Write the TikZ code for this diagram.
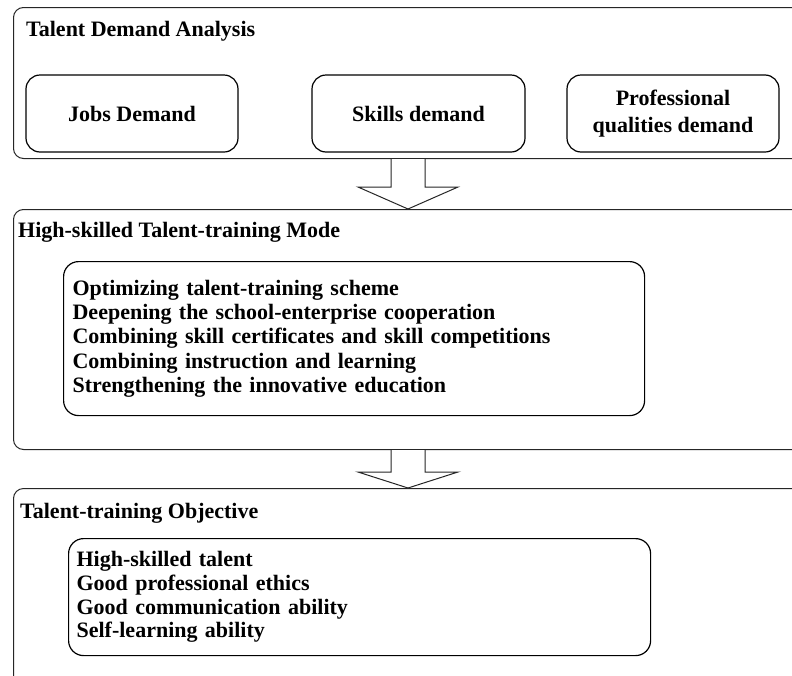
\documentclass[tikz,border=0pt]{standalone}
\usepackage{fontspec}
\setmainfont{Liberation Serif}
\usetikzlibrary{calc}
\begin{document}
\begin{tikzpicture}[x=1pt,y=-1pt,
  every node/.style={font=\fontsize{22}{24.3}\selectfont\bfseries},
  outerbox/.style={draw=black!85, line width=1pt, rounded corners=10pt, anchor=north west, inner sep=0pt},
  innerbox/.style={draw=black, line width=1.2pt, rounded corners=14pt, inner sep=0pt, align=center},
  listbox/.style={draw=black, line width=1.2pt, rounded corners=15pt, inner xsep=9pt, inner ysep=0pt, align=left, anchor=north west},
  titletext/.style={anchor=base west, inner sep=0pt},
  blockarrow/.style={draw=black!85, line width=1pt, fill=white, line join=miter}
]
\useasboundingbox (0,0) rectangle (792,675);
\clip (0,0) rectangle (792,675);
\fill[white] (0,0) rectangle (792,675);

% outer boxes (run off the right / bottom edge)
\node[outerbox, minimum width=900pt, minimum height=151pt] (b1) at (13,7) {};
\node[outerbox, minimum width=900pt, minimum height=240pt] (b2) at (13,209) {};
\node[outerbox, minimum width=900pt, minimum height=240pt] (b3) at (13,488) {};

% titles
\node[titletext] (t1) at (26,36) {Talent Demand Analysis};
\node[titletext] (t2) at (18,237) {High-skilled Talent-training Mode};
\node[titletext] (t3) at (20,518) {Talent-training Objective};

% demand boxes
\node[innerbox, minimum width=212pt, minimum height=77pt] (jobs) at (132,113.5) {Jobs Demand};
\node[innerbox, minimum width=213pt, minimum height=77pt] (skills) at (418.5,113.5) {Skills demand};
\node[innerbox, minimum width=212pt, minimum height=77pt, font=\fontsize{22}{27}\selectfont\bfseries] (prof) at (673,113.5) {Professional\\qualities demand};

% mode box
\node[listbox, text width=563pt, minimum height=154pt] (mode) at (63,261) {Optimizing talent-training scheme\\
Deepening the school-enterprise cooperation\\
Combining skill certificates and skill competitions\\
Combining instruction and learning\\
Strengthening the innovative education};

% objective box
\node[listbox, inner xsep=8pt, text width=566pt, minimum height=117pt, font=\fontsize{22}{23.7}\selectfont\bfseries] (obj) at (68,538) {High-skilled talent\\
Good professional ethics\\
Good communication ability\\
Self-learning ability};

% block arrows
\coordinate (a1s) at ($(b1.south west)!0!(b1.south east) + (395,0)$);
\coordinate (a1t) at ($(b2.north west) + (395,0)$);
\draw[blockarrow] ($(a1s)+(-17,0)$) -- ($(a1s)+(-17,28)$) -- ($(a1s)+(-50,28)$) -- (a1t)
  -- ($(a1s)+(50,28)$) -- ($(a1s)+(17,28)$) -- ($(a1s)+(17,0)$);

\coordinate (a2s) at ($(b2.south west) + (395,0)$);
\coordinate (a2t) at ($(b3.north west) + (395,0)$);
\draw[blockarrow] ($(a2s)+(-17,0)$) -- ($(a2s)+(-17,22)$) -- ($(a2s)+(-50,22)$) -- (a2t)
  -- ($(a2s)+(50,22)$) -- ($(a2s)+(17,22)$) -- ($(a2s)+(17,0)$);
\end{tikzpicture}
\end{document}
